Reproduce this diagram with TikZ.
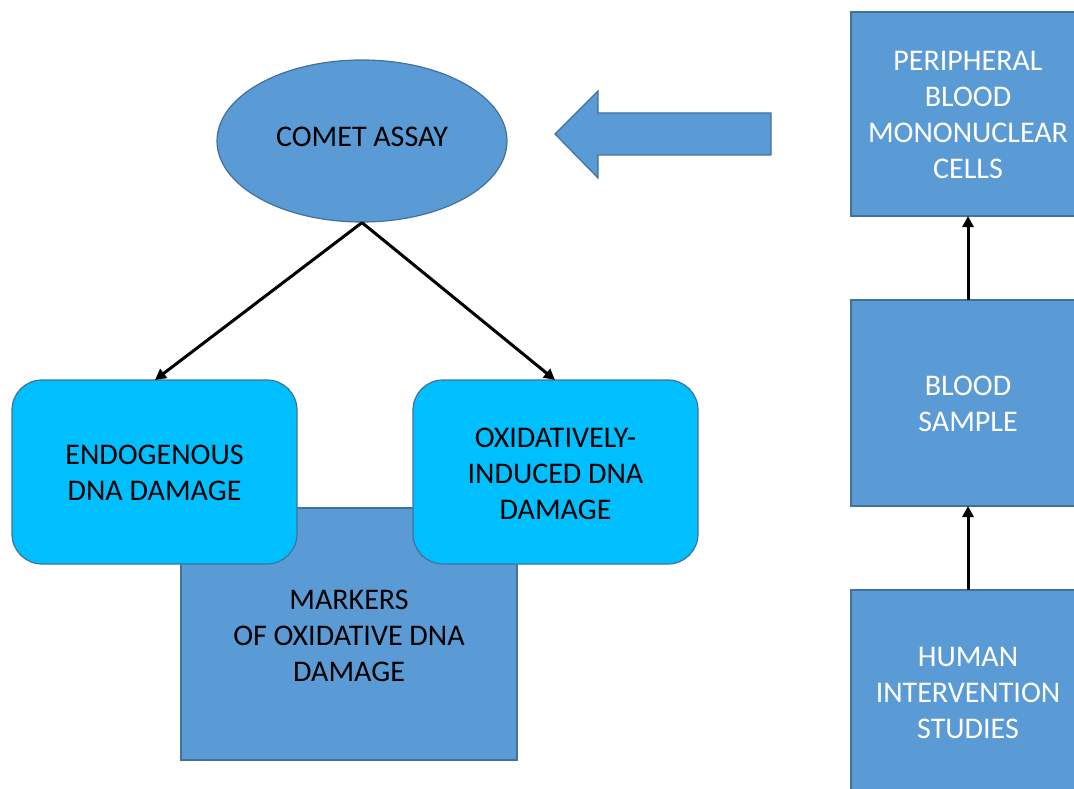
\documentclass[tikz,border=0pt]{standalone}
\usepackage{fontspec}
\setmainfont{Carlito}
\usetikzlibrary{arrows.meta,shapes.geometric}
\definecolor{boxblue}{HTML}{5B9BD5}
\definecolor{edgeblue}{HTML}{41719C}
\definecolor{skyfill}{HTML}{00BFFF}
\tikzset{
  lbl/.style={font=\fontsize{30}{36}\selectfont, align=center, inner sep=0pt},
  bluebox/.style={draw=edgeblue, line width=1.2pt, fill=boxblue},
  skybox/.style={draw=edgeblue, line width=1.2pt, fill=skyfill, rounded corners=30pt},
  conn/.style={draw=black, line width=3pt, -{Triangle[length=11pt,width=11pt]}},
}
\begin{document}
\begin{tikzpicture}[x=1pt,y=-1pt]
\useasboundingbox (0,0) rectangle (1074,789);
\clip (0,0) rectangle (1074,789);
% markers box (behind)
\draw[bluebox] (181,508) rectangle (517,760);
\node[lbl] (markers) at (349,636) {MARKERS\\OF OXIDATIVE DNA\\DAMAGE};
% rounded boxes
\draw[skybox] (12,380) rectangle (297,564);
\coordinate (endotop) at (155,380);
\node[lbl] (endo) at (154.5,473) {ENDOGENOUS\\DNA DAMAGE};
\draw[skybox] (413,380) rectangle (698,564);
\coordinate (oxitop) at (555,380);
\node[lbl] (oxi) at (555.5,474) {OXIDATIVELY-\\INDUCED DNA\\DAMAGE};
% ellipse
\node[ellipse, draw=edgeblue, line width=1.2pt, fill=boxblue, minimum width=290pt, minimum height=162pt, inner sep=0pt] (comet) at (362,141) {};
\node[lbl] (comettxt) at (362,137) {COMET ASSAY};
% big arrow
\draw[bluebox] (555,134) -- (598,91) -- (598,113) -- (771,113) -- (771,155) -- (598,155) -- (598,178) -- cycle;
% right column
\draw[bluebox] (851,12) rectangle (1090,216);
\node[lbl, text=white] (pbmc) at (968,115) {PERIPHERAL\\BLOOD\\MONONUCLEAR\\CELLS};
\coordinate (pbmcbot) at (968,216);
\draw[bluebox] (851,300) rectangle (1090,506);
\node[lbl, text=white] (blood) at (968,404) {BLOOD\\SAMPLE};
\coordinate (bloodtop) at (968,300);
\coordinate (bloodbot) at (968,506);
\draw[bluebox] (851,590) rectangle (1090,800);
\node[lbl, text=white] (human) at (968,693) {HUMAN\\INTERVENTION\\STUDIES};
\coordinate (humantop) at (968,590);
% connectors
\draw[conn] (comet.south) -- (endotop);
\draw[conn] (comet.south) -- (oxitop);
\draw[conn] (bloodtop) -- (pbmcbot);
\draw[conn] (humantop) -- (bloodbot);
\end{tikzpicture}
\end{document}
